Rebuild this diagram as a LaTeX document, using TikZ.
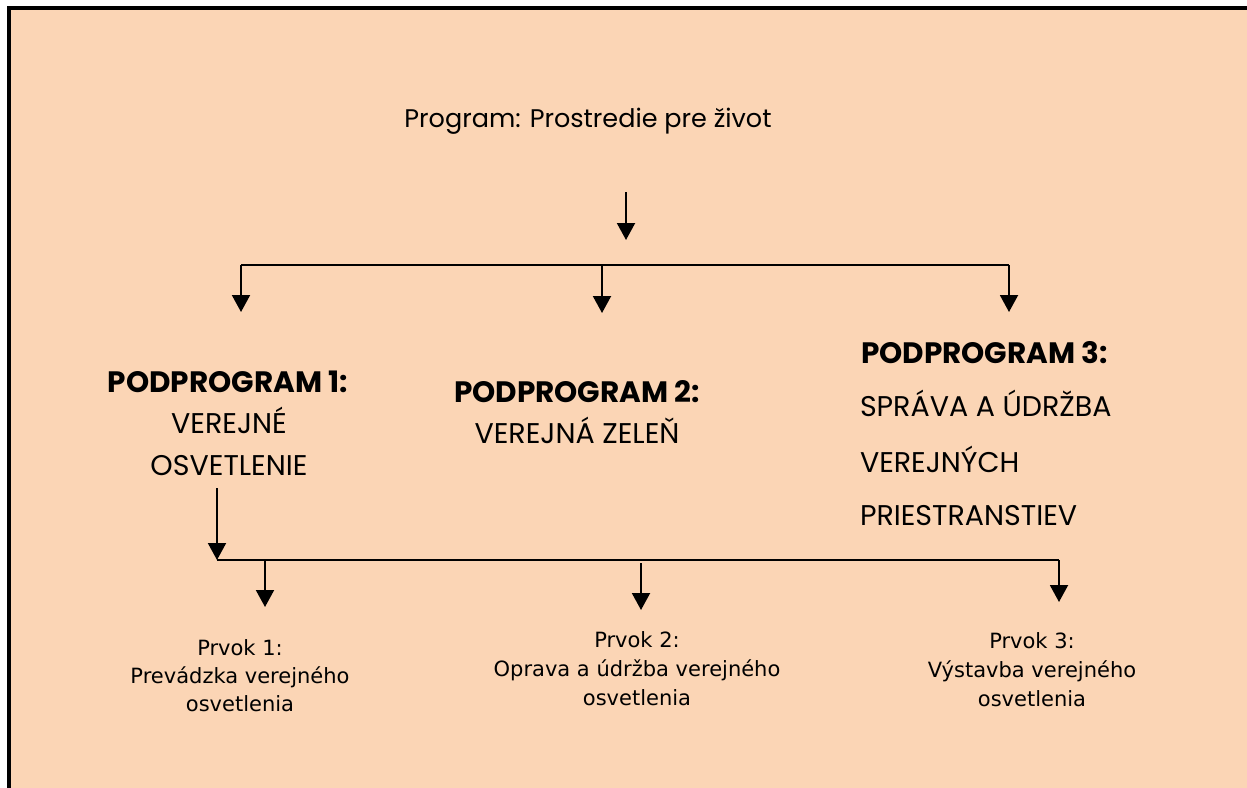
\documentclass[tikz,border=0pt]{standalone}
\usepackage{fontspec}
\usepackage{xcolor}
\setmainfont{Poppins}
\newfontfamily\prvokfont{DejaVu Sans}
\usetikzlibrary{arrows.meta,positioning}
\definecolor{peach}{RGB}{251,213,181}

\begin{document}
\begin{tikzpicture}[
    x=1pt, y=-1pt,
    line width=2pt,
    nosep/.style={inner sep=0},
    arr/.style={-{Triangle[width=18pt,length=17pt]}},
    title/.style={nosep, anchor=base, font=\fontsize{25.5}{30}\selectfont},
    head/.style={nosep, anchor=base, font=\fontsize{29.5}{32}\selectfont\bfseries},
    body/.style={nosep, anchor=base, font=\fontsize{28.5}{32}\selectfont},
    item/.style={nosep, anchor=base, font=\prvokfont\fontsize{21}{24}\selectfont}]
\clip (0,0) rectangle (1247,787);
\draw[line width=4pt, fill=peach] (9,8) rectangle (1300,900);

\node[title] (PROG) at (588,127) {Program: Prostredie pre život};

% podprogramy
\node[head] (SUBA)   at (228,392) {PODPROGRAM 1:};
\node[body] (SUBA-1) at (229,433) {VEREJNÉ};
\node[body] (SUBA-2) at (229,475) {OSVETLENIE};

\node[head] (SUBB)   at (577,402) {PODPROGRAM 2:};
\node[body] (SUBB-1) at (577,443) {VEREJNÁ ZELEŇ};

\node[head, anchor=base west] (SUBC)   at (860,363) {PODPROGRAM 3:};
\node[body, anchor=base west] (SUBC-1) at (859,416) {SPRÁVA A ÚDRŽBA};
\node[body, anchor=base west] (SUBC-2) at (859,472) {VEREJNÝCH};
\node[body, anchor=base west] (SUBC-3) at (859,525) {PRIESTRANSTIEV};

% prvky
\node[item] (ITEMA)   at (240,655) {Prvok 1:};
\node[item] (ITEMA-1) at (240,683) {Prevádzka verejného};
\node[item] (ITEMA-2) at (240,711) {osvetlenia};

\node[item] (ITEMB)   at (637,647) {Prvok 2:};
\node[item] (ITEMB-1) at (637,676) {Oprava a údržba verejného};
\node[item] (ITEMB-2) at (637,705) {osvetlenia};

\node[item] (ITEMC)   at (1032,648) {Prvok 3:};
\node[item] (ITEMC-1) at (1032,677) {Výstavba verejného};
\node[item] (ITEMC-2) at (1032,706) {osvetlenia};

% connectors
\coordinate (PROG-out) at (626,192);
\coordinate (PROG-in)  at (626,240);
\coordinate (BUSA-w) at (241,265);
\coordinate (BUSA-m) at (602,265);
\coordinate (BUSA-e) at (1009,265);
\coordinate (SUBA-in) at (241,312);
\coordinate (SUBB-in) at (602,313);
\coordinate (SUBC-in) at (1009,312);

\coordinate (SUBA-out) at (217,488);
\coordinate (BUSB-w) at (217,560);
\coordinate (BUSB-a) at (265,560);
\coordinate (BUSB-b) at (641,563);
\coordinate (BUSB-e) at (1059,560);
\coordinate (ITEMA-in) at (265,607);
\coordinate (ITEMB-in) at (641,610);
\coordinate (ITEMC-in) at (1059,602);

\draw[arr] (PROG-out) -- (PROG-in);
\draw (BUSA-w) -- (BUSA-e);
\draw[arr] (BUSA-w) -- (SUBA-in);
\draw[arr] (BUSA-m) -- (SUBB-in);
\draw[arr] (BUSA-e) -- (SUBC-in);

\draw[arr] (SUBA-out) -- (BUSB-w);
\draw (BUSB-w) -- (BUSB-e);
\draw[arr] (BUSB-a) -- (ITEMA-in);
\draw[arr] (BUSB-b) -- (ITEMB-in);
\draw[arr] (BUSB-e) -- (ITEMC-in);

\end{tikzpicture}
\end{document}
